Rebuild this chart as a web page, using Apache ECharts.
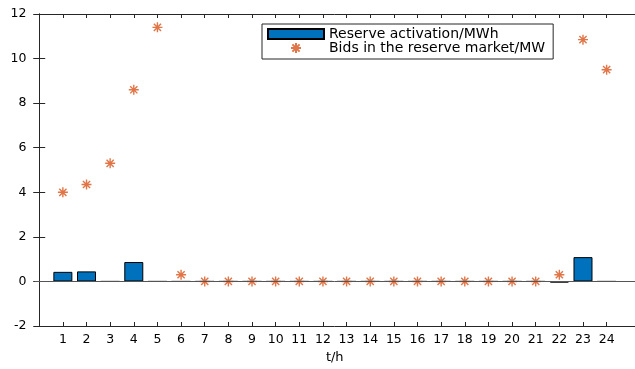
<!DOCTYPE html>
<html>
<head>
<meta charset="utf-8">
<script src="https://cdn.jsdelivr.net/npm/echarts@6/dist/echarts.min.js"></script>
<style>
  html, body { margin: 0; padding: 0; background: #fff; }
  #chart { width: 635px; height: 369px; }
</style>
</head>
<body>
<div id="chart"></div>
<script>
// hours of the day
const hours = [1, 2, 3, 4, 5, 6, 7, 8, 9, 10, 11, 12, 13, 14, 15, 16, 17, 18, 19, 20, 21, 22, 23, 24]
// reserve activation, MWh
const activation = [0.43, 0.45, 0, 0.87, 0, 0, 0, 0, 0, 0, 0, 0, 0, 0, 0, 0, 0, 0, 0, 0, 0, -0.05, 1.09, 0]
// bids in the reserve market, MW
const bids = [4.0, 4.35, 5.3, 8.6, 11.4, 0.3, 0, 0, 0, 0, 0, 0, 0, 0, 0, 0, 0, 0, 0, 0, 0, 0.3, 10.85, 9.5]
const yTicks = [-2, 0, 2, 4, 6, 8, 10, 12]

const NAME_BAR = 'Reserve activation/MWh'
const NAME_BID = 'Bids in the reserve market/MW'
const STAR = 'path://M0,-5L0,5M-5,0L5,0M-3.6,-3.6L3.6,3.6M-3.6,3.6L3.6,-3.6'
const axisColor = '#262626'
const font = 'DejaVu Sans, sans-serif'

const chart = echarts.init(document.getElementById('chart'), null, { renderer: 'canvas' })

const xBase = {
  type: 'value',
  min: -0.2,
  max: 25.2,
  axisLine: { show: true, onZero: false, lineStyle: { color: axisColor, width: 1 } },
  axisTick: { show: true, inside: true, length: 4, customValues: hours, lineStyle: { color: axisColor } },
  splitLine: { show: false }
}
const yBase = {
  type: 'value',
  min: yTicks[0],
  max: yTicks[yTicks.length - 1],
  interval: 2,
  axisLine: { show: true, lineStyle: { color: axisColor, width: 1 } },
  axisTick: { show: true, inside: true, length: 6, lineStyle: { color: axisColor } },
  splitLine: { show: false }
}

chart.setOption({
  backgroundColor: '#fff',
  animation: false,
  textStyle: { fontFamily: font },
  grid: { left: 34.5, top: 14, width: 602, height: 316, containLabel: false },
  legend: {
    orient: 'vertical',
    left: 262,
    top: 24,
    itemWidth: 56,
    itemHeight: 10,
    itemGap: 0,
    padding: [3, 8, 4, 5],
    backgroundColor: '#fff',
    borderColor: axisColor,
    borderWidth: 1,
    borderRadius: 0,
    textStyle: { fontSize: 14, lineHeight: 14, color: '#000', fontFamily: font },
    data: [
      { name: NAME_BAR, icon: 'rect' },
      { name: NAME_BID, icon: STAR }
    ]
  },
  xAxis: [
    Object.assign({}, xBase, {
      position: 'bottom',
      name: 't/h',
      nameLocation: 'middle',
      nameGap: 25,
      nameTextStyle: { fontSize: 13, color: '#000', fontFamily: font },
      axisLabel: { show: true, customValues: hours, margin: 7, fontSize: 12.5, color: '#000', fontFamily: font }
    }),
    Object.assign({}, xBase, { position: 'top', axisLabel: { show: false } })
  ],
  yAxis: [
    Object.assign({}, yBase, {
      position: 'left',
      axisLabel: { margin: 8, fontSize: 12.5, color: '#000', fontFamily: font }
    }),
    Object.assign({}, yBase, { position: 'right', axisLabel: { show: false } })
  ],
  series: [
    {
      name: NAME_BAR,
      type: 'bar',
      barWidth: 19,
      data: hours.map((h, i) => [h, activation[i]]),
      itemStyle: { color: '#0072BD', borderColor: '#000', borderWidth: 1 },
      markLine: {
        silent: true,
        symbol: 'none',
        label: { show: false },
        lineStyle: { color: '#555', width: 1, type: 'solid' },
        data: [{ yAxis: 0 }]
      },
      z: 2
    },
    {
      name: NAME_BID,
      type: 'scatter',
      symbol: STAR,
      symbolSize: 10,
      data: hours.map((h, i) => [h, bids[i]]),
      itemStyle: { color: 'rgba(0,0,0,0)', borderColor: '#D95319', borderWidth: 1.4 },
      z: 3
    }
  ]
})
</script>
</body>
</html>
